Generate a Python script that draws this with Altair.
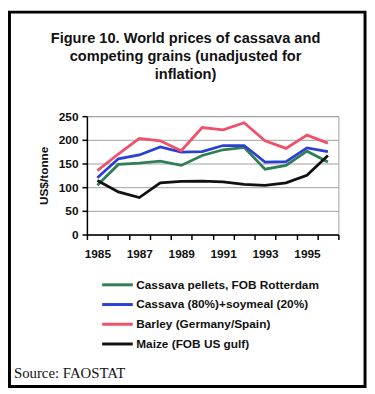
import altair as alt
import pandas as pd

years = list(range(1985, 1997))
series_names = [
    "Cassava pellets, FOB Rotterdam",
    "Cassava (80%)+soymeal (20%)",
    "Barley (Germany/Spain)",
    "Maize (FOB US gulf)",
]
pellets = [104, 148, 151, 155, 146, 167, 179, 184, 138, 146, 176, 153]
blend = [120, 160, 168, 185, 174, 175, 188, 188, 153, 154, 183, 175]
barley = [135, 170, 203, 198, 177, 226, 221, 236, 198, 182, 210, 193]
maize = [114, 90, 78, 109, 112, 113, 111, 106, 104, 109, 125, 167]
colors = ["#2f7f55", "#2a3fd6", "#f0506a", "#111111"]
title_lines = [
    "Figure 10. World prices of cassava and",
    "competing grains (unadjusted for",
    "inflation)",
]
source_text = "Source: FAOSTAT"
y_ticks = [0, 50, 100, 150, 200, 250]

rows = []
for name, vals in zip(series_names, [pellets, blend, barley, maize]):
    for yr, v in zip(years, vals):
        rows.append({"year": yr, "series": name, "value": v})
df = pd.DataFrame(rows)
one = pd.DataFrame({"k": [0]})

font = "Liberation Sans"

lines = alt.Chart(df).mark_line(strokeWidth=2.8).encode(
    x=alt.X(
        "year:O",
        scale=alt.Scale(type="band", paddingInner=0, paddingOuter=0),
        axis=alt.Axis(
            title=None,
            tickBand="extent",
            labelAngle=0,
            labelExpr="datum.value % 2 == 1 ? datum.label : ''",
            labelFont=font,
            labelFontWeight="bold",
            labelFontSize=12,
            labelColor="#111",
            labelPadding=9,
            tickSize=5,
            tickColor="#000",
            domainColor="#000",
            domainWidth=1.5,
            tickWidth=1.5,
            grid=False,
        ),
    ),
    y=alt.Y(
        "value:Q",
        scale=alt.Scale(domain=[0, 250], nice=False),
        axis=alt.Axis(
            title="US$/tonne",
            values=y_ticks,
            titleFont=font,
            titleFontWeight="bold",
            titleFontSize=12,
            titleColor="#111",
            titlePadding=8,
            labelFont=font,
            labelFontWeight="bold",
            labelFontSize=12,
            labelColor="#111",
            labelPadding=4,
            tickSize=5,
            tickColor="#000",
            tickWidth=1.5,
            domainColor="#000",
            domainWidth=1.5,
            grid=True,
            gridColor="#a0a0a0",
            gridWidth=1,
        ),
    ),
    color=alt.Color(
        "series:N",
        scale=alt.Scale(domain=series_names, range=colors),
        legend=alt.Legend(
            title=None,
            orient="none",
            legendX=22,
            legendY=162,
            symbolType="M-2.07,0H2.07",
            symbolSize=225,
            symbolStrokeWidth=3,
            labelFont=font,
            labelFontWeight="bold",
            labelFontSize=12,
            labelColor="#111",
            labelOffset=10,
            labelLimit=0,
            rowPadding=5,
        ),
    ),
    order=alt.Order("year:O"),
)

title = alt.Chart(one).mark_text(
    font=font, fontWeight="bold", fontSize=14.8, color="#111",
    align="center", baseline="top", lineHeight=18,
).encode(
    x=alt.value(100), y=alt.value(-86), text=alt.value(title_lines)
)

source = alt.Chart(one).mark_text(
    font="Liberation Serif", fontSize=15, color="#111",
    align="left", baseline="middle",
).encode(
    x=alt.value(-74), y=alt.value(260), text=alt.value(source_text)
)

frame = alt.Chart(one).mark_rect(
    filled=False, stroke="#000", strokeWidth=3
).encode(
    x=alt.value(-78.5), x2=alt.value(282), y=alt.value(-105.5), y2=alt.value(274)
)

chart = alt.layer(lines, title, source, frame).properties(
    width=255, height=120, padding=0, background="white"
).configure_view(stroke="#a0a0a0", strokeWidth=1)

chart.save("out.html", embed_options={"renderer": "svg", "actions": False})
